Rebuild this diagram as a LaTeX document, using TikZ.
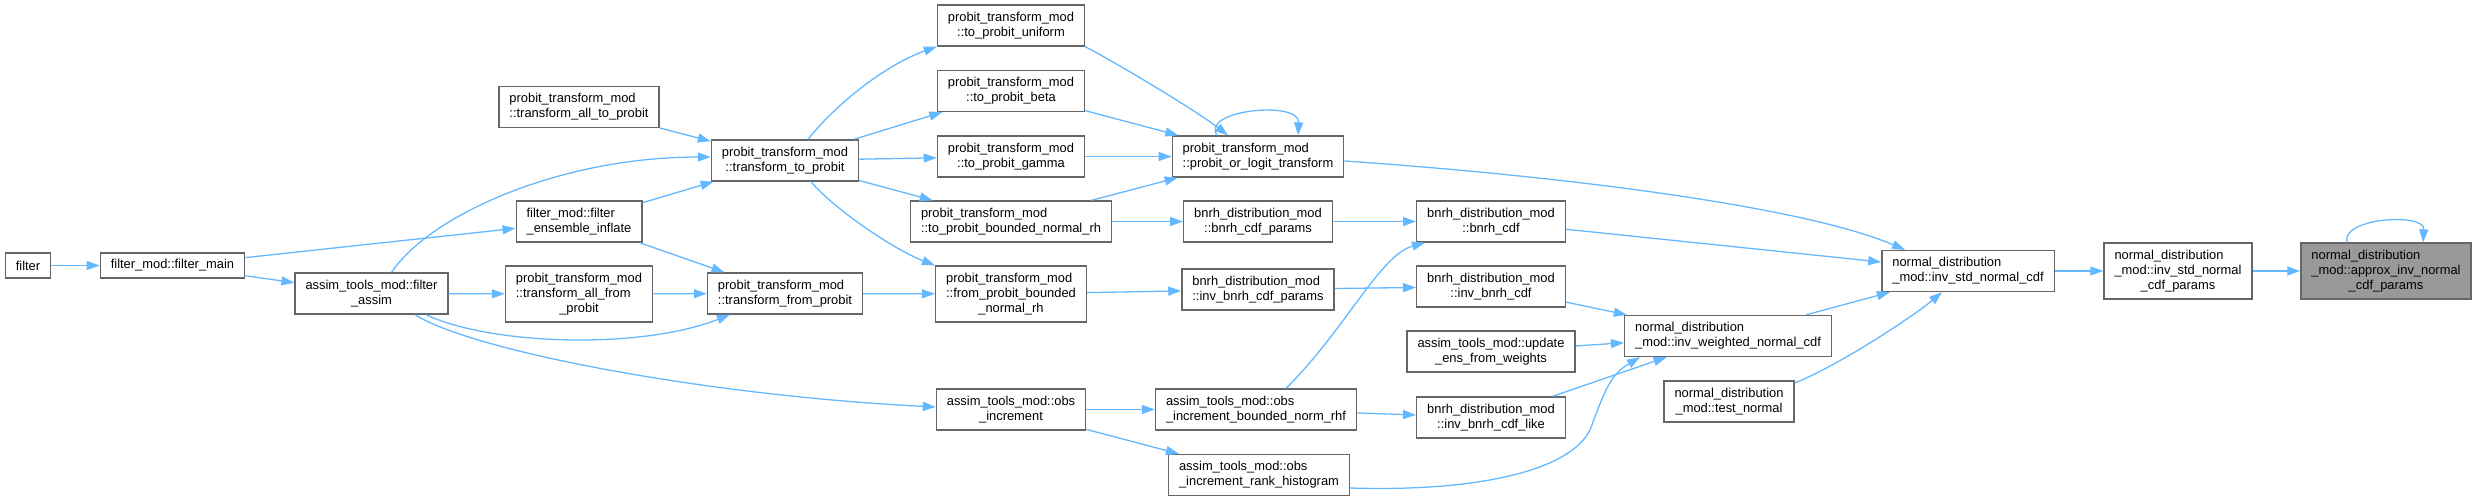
\documentclass[tikz,border=0pt]{standalone}
\usepackage{fontspec}
\setmainfont{Liberation Sans}
\usepackage{xcolor}
\usetikzlibrary{arrows.meta, positioning}
\definecolor{edgeblue}{HTML}{63B8FF}
\definecolor{boxgray}{HTML}{666666}
\definecolor{hlgray}{HTML}{999999}
\newcommand{\twoline}[2]{\begin{tabular}{@{}l@{}}#1\\\multicolumn{1}{@{}c@{}}{#2}\end{tabular}}
\newcommand{\threeline}[3]{\begin{tabular}{@{}l@{}}#1\\#2\\\multicolumn{1}{@{}c@{}}{#3}\end{tabular}}

\begin{document}
\begin{tikzpicture}[x=1pt, y=-1pt,
        fn/.style={draw=boxgray, line width=1.3pt, fill=white, inner xsep=10.5pt, inner ysep=5.5pt,
            minimum height=25pt, font=\fontsize{12.9}{15}\selectfont},
        cur/.style={fn, fill=hlgray},
        call/.style={-{Triangle[length=13pt,width=9pt]}, color=edgeblue, line width=1.3pt}
    ]
        \useasboundingbox (0,0) rectangle (2477,501);

        % Callers on the left
        \node[fn] (filt) at (28,265.5) {filter};
        \node[fn] (fmain) at (172.5,265.5) {filter\_mod::filter\_main};
        \node[fn] (fassim) at (371.5,293.5) {\twoline{assim\_tools\_mod::filter}{\_assim}};
        \node[fn] (alltp) at (579,107) {\twoline{probit\_transform\_mod}{::transform\_all\_to\_probit}};
        \node[fn] (inflate) at (579,221.5) {\twoline{filter\_mod::filter}{\_ensemble\_inflate}};
        \node[fn] (allfp) at (579,294) {\threeline{probit\_transform\_mod}{::transform\_all\_from}{\_probit}};
        \node[fn] (totp) at (785,160.5) {\twoline{probit\_transform\_mod}{::transform\_to\_probit}};
        \node[fn] (fromp) at (785,293.5) {\twoline{probit\_transform\_mod}{::transform\_from\_probit}};

        % Probit transforms and observation increments
        \node[fn] (unif) at (1011,25.5) {\twoline{probit\_transform\_mod}{::to\_probit\_uniform}};
        \node[fn] (beta) at (1011,91) {\twoline{probit\_transform\_mod}{::to\_probit\_beta}};
        \node[fn] (gamma) at (1011,156.5) {\twoline{probit\_transform\_mod}{::to\_probit\_gamma}};
        \node[fn] (tobnrh) at (1011,221.5) {\twoline{probit\_transform\_mod}{::to\_probit\_bounded\_normal\_rh}};
        \node[fn] (frombnrh) at (1011,294) {\threeline{probit\_transform\_mod}{::from\_probit\_bounded}{\_normal\_rh}};
        \node[fn] (obsinc) at (1011,409.5) {\twoline{assim\_tools\_mod::obs}{\_increment}};
        \node[fn] (pol) at (1258,156.5) {\twoline{probit\_transform\_mod}{::probit\_or\_logit\_transform}};
        \node[fn] (cdfpar) at (1258,221.5) {\twoline{bnrh\_distribution\_mod}{::bnrh\_cdf\_params}};
        \node[fn] (invcdfpar) at (1258,289.5) {\twoline{bnrh\_distribution\_mod}{::inv\_bnrh\_cdf\_params}};
        \node[fn] (obsbnrh) at (1256,409.5) {\twoline{assim\_tools\_mod::obs}{\_increment\_bounded\_norm\_rhf}};
        \node[fn] (obsrank) at (1259,475) {\twoline{assim\_tools\_mod::obs}{\_increment\_rank\_histogram}};

        % Distribution routines
        \node[fn] (bcdf) at (1491,221.5) {\twoline{bnrh\_distribution\_mod}{::bnrh\_cdf}};
        \node[fn] (ibcdf) at (1491,286.5) {\twoline{bnrh\_distribution\_mod}{::inv\_bnrh\_cdf}};
        \node[fn] (upd) at (1491,351.5) {\twoline{assim\_tools\_mod::update}{\_ens\_from\_weights}};
        \node[fn] (ibcdflike) at (1491,417.5) {\twoline{bnrh\_distribution\_mod}{::inv\_bnrh\_cdf\_like}};
        \node[fn] (iwncdf) at (1728,336) {\twoline{normal\_distribution}{\_mod::inv\_weighted\_normal\_cdf}};
        \node[fn] (tnorm) at (1729,401.5) {\twoline{normal\_distribution}{\_mod::test\_normal}};
        \node[fn] (isncdf) at (1968,271) {\twoline{normal\_distribution}{\_mod::inv\_std\_normal\_cdf}};
        \node[fn] (isnpar) at (2178,271) {\threeline{normal\_distribution}{\_mod::inv\_std\_normal}{\_cdf\_params}};
        \node[cur] (approx) at (2386,271) {\threeline{normal\_distribution}{\_mod::approx\_inv\_normal}{\_cdf\_params}};

        % Calls from the filter side
        \draw[call] (filt) -- (fmain);
        \draw[call] (fmain) -- (inflate);
        \draw[call] (fmain) -- (fassim);
        \draw[call] ([xshift=20pt]fassim.north) .. controls (430,215) and (560,157) .. ([yshift=3.5pt]totp.west);
        \draw[call] (fassim) -- (allfp);
        \draw[call] ([xshift=54.5pt]fassim.south) .. controls (490,345) and (640,350) .. ([xshift=-55pt]fromp.south);
        \draw[call] ([xshift=43.5pt]fassim.south) .. controls (470,350) and (700,395) .. ([yshift=2.5pt]obsinc.west);
        \draw[call] (alltp) -- (totp);
        \draw[call] (inflate) -- (totp);
        \draw[call] (inflate) -- (fromp);
        \draw[call] (allfp) -- (fromp);

        % Transform calls
        \draw[call] ([xshift=23pt]totp.north) .. controls (835,105) and (885,65) .. (unif.south west);
        \draw[call] (totp) -- (beta);
        \draw[call] (totp) -- (gamma);
        \draw[call] (totp) -- (tobnrh);
        \draw[call] ([xshift=26pt]totp.south) .. controls (835,210) and (895,250) .. (frombnrh.north west);
        \draw[call] (fromp) -- (frombnrh);
        \draw[call] (unif.south east) .. controls (1120,65) and (1195,110) .. ([xshift=-30pt]pol.north);
        \draw[call] (beta) -- (pol);
        \draw[call] (gamma) -- (pol);
        \draw[call] (tobnrh) -- (pol);
        \draw[call] (tobnrh) -- (cdfpar);
        \draw[call] ([xshift=-41pt]pol.north) .. controls (1200,110) and (1300,100) .. ([xshift=40pt]pol.north);
        \draw[call] ([yshift=-4.5pt]pol.east) .. controls (1550,175) and (1800,205) .. ([xshift=-63pt]isncdf.north);
        \draw[call] (frombnrh) -- (invcdfpar);
        \draw[call] (cdfpar) -- (bcdf);
        \draw[call] (invcdfpar) -- (ibcdf);
        \draw[call] (obsinc) -- (obsbnrh);
        \draw[call] (obsinc) -- (obsrank);
        \draw[call] ([xshift=30pt]obsbnrh.north) .. controls (1345,330) and (1380,255) .. ([xshift=-66pt]bcdf.south);
        \draw[call] (obsbnrh) -- (ibcdflike);
        \draw[call] ([yshift=-13pt]obsrank.east) .. controls (1480,492) and (1570,470) .. (1590,430)
            .. controls (1605,390) and (1610,375) .. ([xshift=-88pt]iwncdf.south);

        % Normal distribution calls
        \draw[call] (bcdf) -- (isncdf);
        \draw[call] (ibcdf) -- (iwncdf);
        \draw[call] (upd) -- (iwncdf);
        \draw[call] (ibcdflike) -- (iwncdf);
        \draw[call] (iwncdf) -- (isncdf);
        \draw[call] ([yshift=18.5pt]tnorm.east) .. controls (1840,365) and (1915,315) .. ([xshift=-26pt]isncdf.south);
        \draw[call] (isncdf) -- (isnpar);
        \draw[call] (isnpar) -- (approx);
        \draw[call] ([xshift=-39pt]approx.north) .. controls (2340,218) and (2425,212) .. ([xshift=37pt]approx.north);

    \end{tikzpicture}
\end{document}
